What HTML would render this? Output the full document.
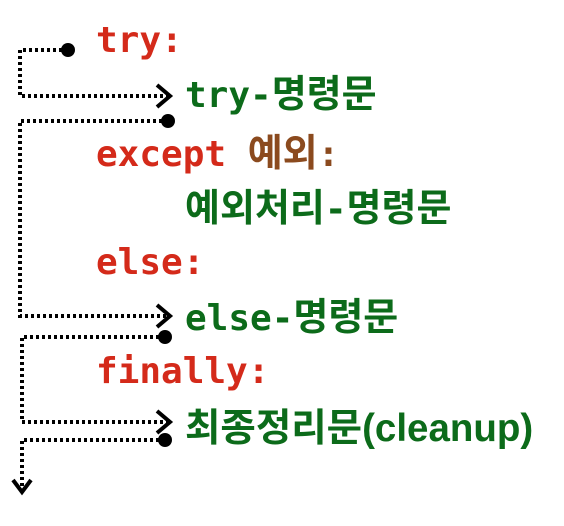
<!DOCTYPE html>
<html><head><meta charset="utf-8"><style>
html,body{margin:0;padding:0;background:#fff;}
svg{display:block}
.m{font-family:"DejaVu Sans Mono","Liberation Mono","Noto Sans CJK KR",monospace;font-weight:bold;font-size:36px}
.k{font-family:"Noto Sans CJK KR",sans-serif;font-size:38px;font-weight:bold}
.s{font-family:"Liberation Sans","Noto Sans CJK KR",sans-serif;font-weight:bold;font-size:38.5px}
.r{fill:#d42a1a}.g{fill:#0c6b1a}.b{fill:#8b4a1e}
</style></head><body>
<svg width="564" height="526" viewBox="0 0 564 526">
<g fill="none" stroke="#000" stroke-width="4" stroke-dasharray="3 3">
<path d="M68 50 H20 V96 H168"/>
<path d="M168 121 H20 V316 H168"/>
<path d="M165 337 H22 V422 H168"/>
<path d="M165 440 H22 V490"/>
</g>
<g fill="none" stroke="#000" stroke-width="4">
<path d="M157 85 L170 96 L157 107"/>
<path d="M157 305 L170 316 L157 327"/>
<path d="M157 411 L170 422 L157 433"/>
<path d="M13 480 L22 492 L31 480"/>
</g>
<g fill="#000">
<circle cx="68" cy="50" r="7"/>
<circle cx="168" cy="121" r="7"/>
<circle cx="165" cy="337" r="7"/>
<circle cx="165" cy="440" r="7"/>
</g>
<text x="96" y="52" class="m r">try:</text>
<text x="185" y="107" class="m g">try-<tspan class="k">명령문</tspan></text>
<text x="96" y="166" class="m"><tspan class="r">except </tspan><tspan class="b k">예외</tspan><tspan class="b">:</tspan></text>
<text x="185" y="221" class="m g"><tspan class="k">예외처리</tspan>-<tspan class="k">명령문</tspan></text>
<text x="96" y="274" class="m r">else:</text>
<text x="185" y="330" class="m g">else-<tspan class="k">명령문</tspan></text>
<text x="96" y="383" class="m r">finally:</text>
<text x="185" y="441" class="s g">최종정리문(cleanup)</text>
</svg>
</body></html>
